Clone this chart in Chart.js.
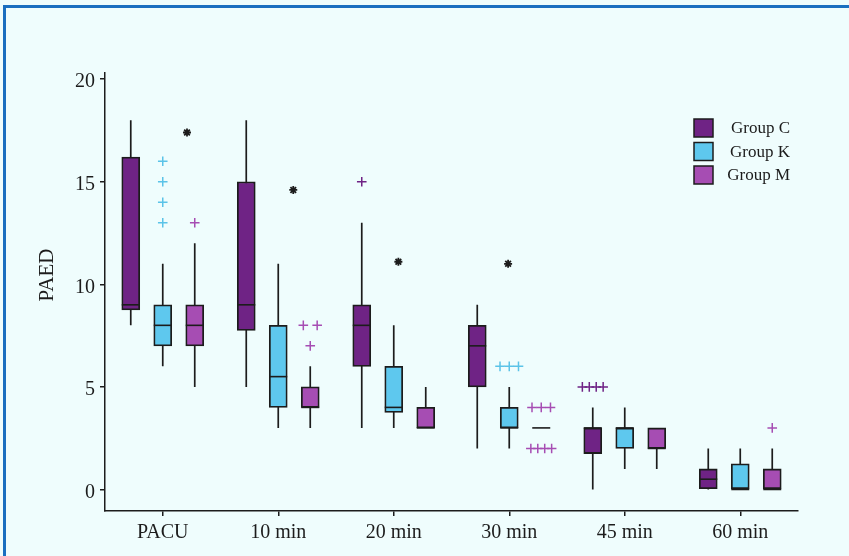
<!DOCTYPE html>
<html>
<head>
<meta charset="utf-8">
<script src="https://cdn.jsdelivr.net/npm/chart.js@4.4.0/dist/chart.umd.min.js"></script>
<style>
html, body { margin: 0; padding: 0; background: #effdfd; }
#wrap { position: relative; width: 849px; height: 556px; overflow: hidden; }
#frame { position: absolute; left: 3px; top: 5px; right: -10px; bottom: -10px;
  border-top: 3px solid #1a6fc0; border-left: 3px solid #1a6fc0; }
canvas { position: absolute; left: 0; top: 0; }
</style>
</head>
<body>
<div id="wrap">
  <div id="frame"></div>
  <canvas id="chart" width="849" height="556"></canvas>
</div>
<script>
const categories = ['PACU', '10 min', '20 min', '30 min', '45 min', '60 min']
const groups = ['Group C', 'Group K', 'Group M']
const yTicks = [0, 5, 10, 15, 20]

// box plot values per group (C, K, M), one entry per time point
const mins    = [[8, 5, 3, 2, 0, 0],          [6, 3, 3, 2, 1, 0],       [5, 3, 3, 3, 1, 0]]
const q1s     = [[8.75, 7.75, 6, 5, 1.75, 0], [7, 4, 3.75, 3, 2, 0],    [7, 4, 3, 3, 2, 0]]
const medians = [[9, 9, 8, 7, 3, 0.5],        [8, 5.5, 4, 3, 3, 0],     [8, 4, 3, 3, 2, 0]]
const q3s     = [[16.2, 15, 9, 8, 3, 1],      [9, 8, 6, 4, 3, 1.25],    [9, 5, 4, 3, 3, 1]]
const maxs    = [[18, 18, 13, 9, 4, 2],       [11, 11, 8, 5, 4, 2],     [12, 6, 5, 3, 3, 2]]

// outliers (+), repeated values are repeated cases
const outliers = [
  [[], [], [15], [], [5, 5, 5, 5], []],
  [[13, 14, 15, 16], [], [], [6, 6, 6], [], []],
  [[13], [8, 8, 7], [], [4, 4, 4, 2, 2, 2, 2], [], [3]]
]

// extreme markers (*): where they sit along the time axis and their value
const extremeAt = [0.21, 1.13, 2.04, 2.99]
const extremeValues = [17.4, 14.6, 11.1, 11.0]

const boxColors = ['#6f2385', '#5ec8ee', '#a64db3']
const markColors = ['#6f2385', '#5bc3e8', '#a64db3']
const offsets = [-0.277, 0, 0.277]
const ink = '#1c1c1c'
const serif = '"Liberation Serif", "Times New Roman", serif'

// boxes as floating bars placed on the hidden linear x2 axis
const boxSets = groups.map((g, i) => ({
  type: 'bar',
  label: g,
  xAxisID: 'x2',
  data: categories.map((c, j) => ({x: j + offsets[i], y: [q1s[i][j], q3s[i][j]]})),
  backgroundColor: boxColors[i],
  borderColor: ink,
  borderWidth: 1.8,
  borderSkipped: false,
  barThickness: 18,
  grouped: false,
  order: 2
}))

// whiskers: one vertical segment per box, broken by null points
const whiskerSets = groups.map((g, i) => {
  let pts = []
  categories.forEach((c, j) => {
    const x = j + offsets[i]
    pts.push({x: x, y: mins[i][j]}, {x: x, y: maxs[i][j]}, {x: x, y: null})
  })
  return {
    type: 'scatter', xAxisID: 'x2', data: pts, showLine: true, spanGaps: false,
    borderColor: ink, borderWidth: 1.7, pointRadius: 0, order: 3
  }
})

const medianSets = groups.map((g, i) => ({
  type: 'scatter', xAxisID: 'x2',
  data: categories.map((c, j) => ({x: j + offsets[i], y: medians[i][j]})),
  pointStyle: 'line', pointRadius: 9, borderColor: ink, pointBorderWidth: 1.6, order: 1
}))

// repeated outliers are spread sideways so each case shows
const outlierSets = groups.map((g, i) => {
  let pts = []
  outliers[i].forEach((vals, j) => {
    let counts = {}
    vals.forEach(v => { counts[v] = (counts[v] || 0) + 1 })
    Object.keys(counts).forEach(v => {
      const n = counts[v], step = 0.24 / n
      for (let k = 0; k < n; k++) {
        pts.push({x: j + offsets[i] + (k - (n - 1) / 2) * step, y: Number(v)})
      }
    })
  })
  return {
    type: 'scatter', xAxisID: 'x2', data: pts,
    pointStyle: 'cross', pointRadius: 4.8, borderColor: markColors[i], pointBorderWidth: 1.5, order: 0
  }
})

const extremeSet = {
  type: 'scatter', xAxisID: 'x2',
  data: extremeAt.map((x, k) => ({x: x, y: extremeValues[k]})),
  pointStyle: 'star', pointRadius: 4, borderColor: ink, pointBorderWidth: 1.8, order: 0
}

// legend and y title drawn by hand
const extras = {
  id: 'extras',
  afterDraw(chart) {
    const ctx = chart.ctx, a = chart.chartArea
    ctx.save()
    ctx.font = '17px ' + serif
    ctx.textAlign = 'right'
    ctx.textBaseline = 'middle'
    groups.forEach((g, i) => {
      const y = a.top + 46 + i * 23.5
      const x = a.right - 104
      ctx.fillStyle = boxColors[i]
      ctx.fillRect(x, y, 19, 18)
      ctx.strokeStyle = ink
      ctx.lineWidth = 1.5
      ctx.strokeRect(x, y, 19, 18)
      ctx.fillStyle = ink
      ctx.fillText(g, a.right - 8, y + 10)
    })
    ctx.translate(47, 275)
    ctx.rotate(-Math.PI / 2)
    ctx.textAlign = 'center'
    ctx.font = '21px ' + serif
    ctx.fillText('PAED', 0, 0)
    ctx.restore()
  }
}

new Chart(document.getElementById('chart'), {
  data: {
    labels: categories,
    datasets: [...whiskerSets, ...boxSets, ...medianSets, ...outlierSets, extremeSet]
  },
  plugins: [extras],
  options: {
    responsive: false,
    animation: false,
    events: [],
    layout: { padding: { top: 73, right: 51, left: 0, bottom: 0 } },
    plugins: { legend: { display: false }, tooltip: { enabled: false } },
    scales: {
      x: {
        type: 'category',
        offset: true,
        grid: { drawOnChartArea: false, drawTicks: true, tickLength: 5, offset: false, color: ink, lineWidth: 1.5 },
        border: { display: true, color: ink, width: 1.5 },
        ticks: { font: { family: serif, size: 20 }, color: ink, padding: 5 },
        afterFit(s) { s.height = 45 }
      },
      x2: { type: 'linear', min: -0.5, max: 5.5, display: false, offset: false },
      y: {
        type: 'linear',
        min: -1.05,
        max: 20.3,
        afterBuildTicks(s) { s.ticks = yTicks.map(v => ({value: v})) },
        grid: { drawOnChartArea: false, drawTicks: true, tickLength: 5, color: ink, lineWidth: 1.5 },
        border: { display: true, color: ink, width: 1.5 },
        ticks: { font: { family: serif, size: 20 }, color: ink, padding: 5, labelOffset: 3 },
        afterFit(s) { s.width = 105 }
      }
    }
  }
})
</script>
</body>
</html>
